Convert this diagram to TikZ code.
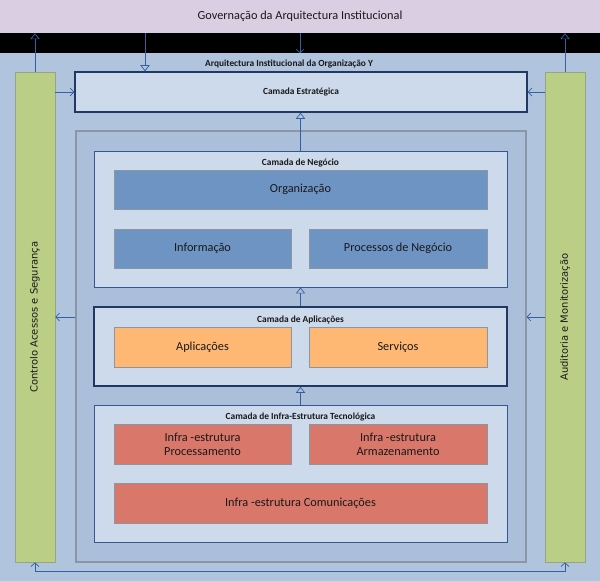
\documentclass[tikz,border=0pt]{standalone}
\usepackage{fontspec}
\setmainfont{Carlito}
\newfontfamily\sidefont{DejaVu Sans}
\usetikzlibrary{arrows.meta}
\begin{document}
\begin{tikzpicture}[>={Straight Barb[length=1.1mm,width=2.4mm]}]
\newcommand{\xpx}{0.03}
\newcommand{\ypx}{-0.03}
\definecolor{govcolor}{RGB}{218,207,226}
\definecolor{bgcolor}{RGB}{176,196,222}
\definecolor{contfill}{RGB}{171,191,218}
\definecolor{contline}{RGB}{138,150,165}
\definecolor{layerfill}{RGB}{205,218,235}
\definecolor{darkline}{RGB}{31,56,100}
\definecolor{layerline}{RGB}{52,86,145}
\definecolor{boxline}{RGB}{140,150,162}
\definecolor{bluebox}{RGB}{110,148,196}
\definecolor{orangebox}{RGB}{255,184,115}
\definecolor{redbox}{RGB}{217,120,106}
\definecolor{sidefill}{RGB}{186,206,134}
\definecolor{sideline}{RGB}{150,166,130}
\definecolor{linkcolor}{RGB}{52,96,160}
\definecolor{txtcolor}{RGB}{25,25,25}
\tikzstyle{plain}=[inner sep=0pt,text=txtcolor]
\tikzstyle{header}=[plain,font=\bfseries\fontsize{8}{9}\selectfont]
\tikzstyle{box}=[plain,draw=boxline,line width=0.6pt,align=center,font=\fontsize{10.5}{12}\selectfont]
\tikzstyle{layer}=[plain,draw=layerline,fill=layerfill,line width=0.8pt]
\tikzstyle{darklayer}=[layer,draw=darkline,line width=1.3pt]
\tikzstyle{side}=[plain,draw=sideline,fill=sidefill,line width=0.6pt,minimum width=1.2cm,minimum height=14.7cm,font=\sidefont\fontsize{8.5}{10}\selectfont]
\tikzstyle{link}=[linkcolor,line width=0.6pt]
\tikzstyle{up}=[link,-{Triangle[open,length=1.8mm,width=2.8mm]}]
\useasboundingbox (0,0) rectangle (\xpx*600,\ypx*581);
\node[plain,fill=govcolor,minimum width=18cm,minimum height=0.99cm,font=\fontsize{10.5}{12}\selectfont] (gov) at (\xpx*300,\ypx*16.5) {Governação da Arquitectura Institucional};
\node[plain,fill=black,minimum width=18cm,minimum height=0.6cm] (band) at (\xpx*300,\ypx*43) {};
\node[plain,fill=bgcolor,minimum width=18cm,minimum height=15.84cm] (inst) at (\xpx*300,\ypx*317) {};
\node[header] (insttitle) at (\xpx*289,\ypx*64) {Arquitectura Institucional da Organização Y};
\node[side] (lg) at (\xpx*35,\ypx*317) {\rotatebox{90}{Controlo Acessos e Segurança}};
\node[side] (rg) at (\xpx*565,\ypx*317) {\rotatebox{90}{Auditoria e Monitorização}};
\node[darklayer,minimum width=13.56cm,minimum height=1.2cm,font=\bfseries\fontsize{8}{9}\selectfont] (estrat) at (\xpx*301,\ypx*92) {Camada Estratégica};
\node[plain,draw=contline,fill=contfill,line width=1pt,minimum width=13.5cm,minimum height=12.93cm] (cont) at (\xpx*301,\ypx*346.5) {};
\node[layer,minimum width=12.39cm,minimum height=4.08cm] (neg) at (\xpx*300.5,\ypx*219) {};
\node[header] (neghdr) at (\xpx*300.5,\ypx*163) {Camada de Negócio};
\node[box,fill=bluebox,minimum width=11.19cm,minimum height=1.17cm] (orgz) at (\xpx*300.5,\ypx*189.5) {Organização};
\node[box,fill=bluebox,minimum width=5.31cm,minimum height=1.17cm] (info) at (\xpx*202.5,\ypx*248.5) {Informação};
\node[box,fill=bluebox,minimum width=5.34cm,minimum height=1.17cm] (proc) at (\xpx*398,\ypx*248.5) {Processos de Negócio};
\node[darklayer,minimum width=12.39cm,minimum height=2.37cm] (apl) at (\xpx*300.5,\ypx*346.5) {};
\node[header] (aplhdr) at (\xpx*300.5,\ypx*320) {Camada de Aplicações};
\node[box,fill=orangebox,minimum width=5.31cm,minimum height=1.2cm] (apps) at (\xpx*202.5,\ypx*347) {Aplicações};
\node[box,fill=orangebox,minimum width=5.34cm,minimum height=1.2cm] (serv) at (\xpx*398,\ypx*347) {Serviços};
\node[layer,minimum width=12.39cm,minimum height=4.11cm] (infra) at (\xpx*300.5,\ypx*473.5) {};
\node[header] (infrahdr) at (\xpx*300.5,\ypx*417) {Camada de Infra-Estrutura Tecnológica};
\node[box,fill=redbox,minimum width=5.31cm,minimum height=1.2cm] (iproc) at (\xpx*202.5,\ypx*444) {Infra -estrutura\\Processamento};
\node[box,fill=redbox,minimum width=5.34cm,minimum height=1.2cm] (iarm) at (\xpx*398,\ypx*444) {Infra -estrutura\\Armazenamento};
\node[box,fill=redbox,minimum width=11.19cm,minimum height=1.2cm] (icom) at (\xpx*300.5,\ypx*503) {Infra -estrutura Comunicações};
\coordinate (govdrop) at (\xpx*145,\ypx*33);
\coordinate (lowrun) at (\xpx*35,\ypx*571);
\draw[up] (lg.north) -- (lg.north |- gov.south);
\draw[up] (rg.north) -- (rg.north |- gov.south);
\draw[up] (govdrop) -- (govdrop |- estrat.north);
\draw[link,->] (gov.south) -- (band.south);
\draw[up] (neg.north) -- (neg.north |- estrat.south);
\draw[up] (apl.north) -- (apl.north |- neg.south);
\draw[up] (infra.north) -- (infra.north |- apl.south);
\draw[link,->] (lg.east |- estrat.west) -- (estrat.west);
\draw[link,->] (rg.west |- estrat.east) -- (estrat.east);
\draw[link,->] (lg.east -| cont.west) -- (lg.east);
\draw[link,->] (rg.west) -- (rg.west -| cont.east);
\draw[link,<->] (lg.south) -- (lowrun) -| (rg.south);
\end{tikzpicture}
\end{document}
